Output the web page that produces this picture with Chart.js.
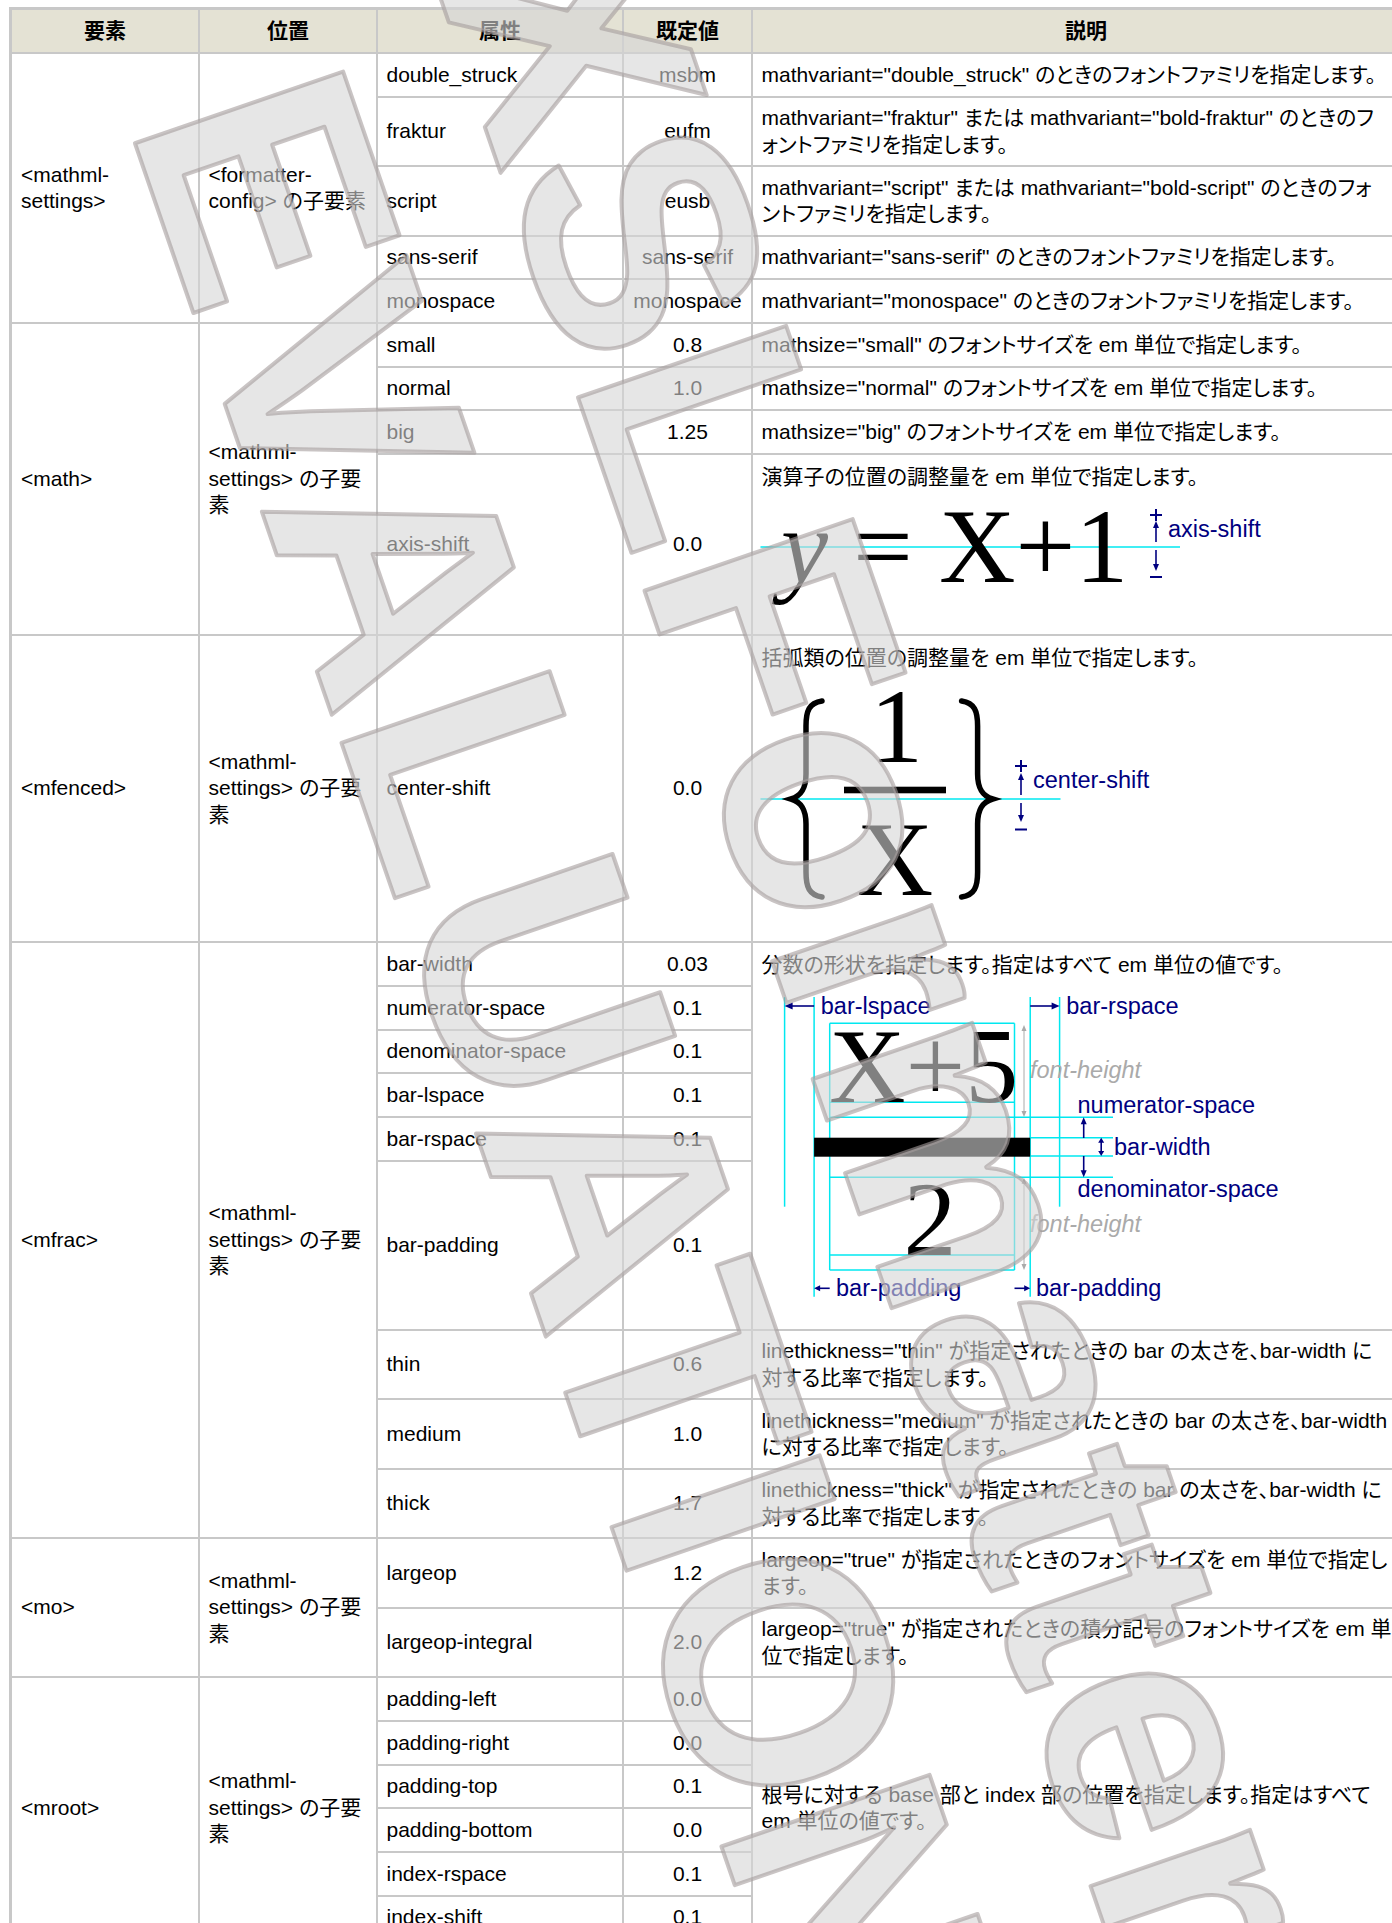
<!DOCTYPE html>
<html>
<head>
<meta charset="utf-8">
<script src="https://cdn.jsdelivr.net/npm/chart.js@4.4.0/dist/chart.umd.min.js"></script>
<style>
html,body{margin:0;padding:0;background:#fff;width:1392px;height:1923px;overflow:hidden;}
#page{position:relative;width:1392px;height:1923px;overflow:hidden;font-family:"Liberation Sans",Arial,"Noto Sans CJK JP",sans-serif;font-size:21px;line-height:26.5px;color:#000;font-feature-settings:"palt";}
.cell{position:absolute;box-sizing:border-box;border-right:2px solid #c8c8c8;border-bottom:2px solid #c8c8c8;display:flex;flex-direction:column;justify-content:center;padding-left:8.5px;white-space:nowrap;overflow:hidden;}
.cell.c0{padding-left:9px;}
.cell.top{justify-content:flex-start;padding-top:8.5px;}
.cell.mid{align-items:center;padding-left:0;}
.cell.hdr{background:#e4e2d4;font-weight:bold;align-items:center;padding-left:0;}
#outer{position:absolute;left:9px;top:7px;width:1500px;height:2000px;border-left:3px solid #c8c8c8;border-top:3px solid #c8c8c8;}
#diag{position:absolute;left:0;top:0;z-index:2;}
#wm{position:absolute;left:0;top:0;width:1392px;height:1923px;z-index:5;pointer-events:none;}
</style>
</head>
<body>
<div id="page">
  <div id="outer"></div>
  <div id="cells"></div>
  <svg id="diag" width="1392" height="1923" xmlns="http://www.w3.org/2000/svg"></svg>
  <canvas id="wm" width="1392" height="1923"></canvas>
</div>
<script>
// ---------------- DATA ----------------
const headerLabels = ['要素', '位置', '属性', '既定値', '説明'];
const elementNames = ['<mathml-\nsettings>', '<math>', '<mfenced>', '<mfrac>', '<mo>', '<mroot>'];
const positionTexts = [
  '<formatter-\nconfig> の子要素',
  '<mathml-\nsettings> の子要\n素',
  '<mathml-\nsettings> の子要\n素',
  '<mathml-\nsettings> の子要\n素',
  '<mathml-\nsettings> の子要\n素',
  '<mathml-\nsettings> の子要\n素'
];
const groupSizes = [5, 4, 1, 9, 2, 6];
const attributeNames = ['double_struck','fraktur','script','sans-serif','monospace',
  'small','normal','big','axis-shift',
  'center-shift',
  'bar-width','numerator-space','denominator-space','bar-lspace','bar-rspace','bar-padding','thin','medium','thick',
  'largeop','largeop-integral',
  'padding-left','padding-right','padding-top','padding-bottom','index-rspace','index-shift'];
const defaultValues = ['msbm','eufm','eusb','sans-serif','monospace',
  '0.8','1.0','1.25','0.0',
  '0.0',
  '0.03','0.1','0.1','0.1','0.1','0.1','0.6','1.0','1.7',
  '1.2','2.0',
  '0.0','0.0','0.1','0.0','0.1','0.1'];
const descriptionTexts = [
  'mathvariant="double_struck" のときのフォントファミリを指定します。',
  'mathvariant="fraktur" または mathvariant="bold-fraktur" のときのフ\nォントファミリを指定します。',
  'mathvariant="script" または mathvariant="bold-script" のときのフォ\nントファミリを指定します。',
  'mathvariant="sans-serif" のときのフォントファミリを指定します。',
  'mathvariant="monospace" のときのフォントファミリを指定します。',
  'mathsize="small" のフォントサイズを em 単位で指定します。',
  'mathsize="normal" のフォントサイズを em 単位で指定します。',
  'mathsize="big" のフォントサイズを em 単位で指定します。',
  '演算子の位置の調整量を em 単位で指定します。',
  '括弧類の位置の調整量を em 単位で指定します。',
  '分数の形状を指定します。指定はすべて em 単位の値です。',
  'linethickness="thin" が指定されたときの bar の太さを、bar-width に\n対する比率で指定します。',
  'linethickness="medium" が指定されたときの bar の太さを、bar-width\nに対する比率で指定します。',
  'linethickness="thick" が指定されたときの bar の太さを、bar-width に\n対する比率で指定します。',
  'largeop="true" が指定されたときのフォントサイズを em 単位で指定し\nます。',
  'largeop="true" が指定されたときの積分記号のフォントサイズを em 単\n位で指定します。',
  '根号に対する base 部と index 部の位置を指定します。指定はすべて\nem 単位の値です。'
];
const descriptionSpans = [1,1,1,1,1, 1,1,1,1, 1, 6,1,1,1, 1,1, 6];
const diagramLabels = {
  axis: 'axis-shift', fence: 'center-shift',
  lspace: 'bar-lspace', rspace: 'bar-rspace', fontHeight: 'font-height',
  numSpace: 'numerator-space', barWidth: 'bar-width', denSpace: 'denominator-space', barPadding: 'bar-padding'
};
const watermarkLines = [['XSL', 'Formatter'], ['EVALUATION']];

// ---------------- LAYOUT ----------------
const COL_X = [11, 199, 377, 623, 752, 1420];
const HEADER_TOP = 9, HEADER_BOTTOM = 53;
const SINGLE_H = 43.7, DOUBLE_H = 69.5;
const SPECIAL_H = {'axis-shift': 181, 'center-shift': 307, 'bar-padding': 169};
const TOP_ALIGNED_DESC = {8: true, 9: true, 10: true};

function esc(s){return s.replace(/&/g,'&amp;').replace(/</g,'&lt;').replace(/>/g,'&gt;');}
function lines(s){return s.split('\n').map(esc).join('<br>');}

const cellsEl = document.getElementById('cells');
function cell(x0, y0, x1, y1, text, cls){
  const a = Math.round(x0), b = Math.round(x1), t = Math.round(y0), u = Math.round(y1);
  const d = document.createElement('div');
  d.className = 'cell ' + (cls || '');
  d.style.left = (a + 1) + 'px';
  d.style.top = (t + 1) + 'px';
  d.style.width = (b - a) + 'px';
  d.style.height = (u - t) + 'px';
  d.innerHTML = '<div>' + lines(text) + '</div>';
  cellsEl.appendChild(d);
}

const rowDesc = [];
{ let r = 0; descriptionTexts.forEach((t, d) => { for (let k = 0; k < descriptionSpans[d]; k++) rowDesc[r + k] = d; r += descriptionSpans[d]; }); }
const rowH = attributeNames.map((a, i) => {
  if (SPECIAL_H[a]) return SPECIAL_H[a];
  const d = rowDesc[i];
  if (descriptionSpans[d] === 1 && descriptionTexts[d].indexOf('\n') >= 0) return DOUBLE_H;
  return SINGLE_H;
});
const rowY = [HEADER_BOTTOM];
rowH.forEach(h => rowY.push(rowY[rowY.length - 1] + h));

headerLabels.forEach((h, c) => cell(COL_X[c], HEADER_TOP, COL_X[c + 1], HEADER_BOTTOM, h, 'hdr'));
{ let start = 0;
  groupSizes.forEach((n, g) => {
    cell(COL_X[0], rowY[start], COL_X[1], rowY[start + n], elementNames[g], 'c0');
    cell(COL_X[1], rowY[start], COL_X[2], rowY[start + n], positionTexts[g], '');
    start += n;
  });
}
attributeNames.forEach((a, i) => {
  cell(COL_X[2], rowY[i], COL_X[3], rowY[i + 1], a, '');
  cell(COL_X[3], rowY[i], COL_X[4], rowY[i + 1], defaultValues[i], 'mid');
});
{ let r = 0;
  descriptionTexts.forEach((t, d) => {
    const n = descriptionSpans[d];
    cell(COL_X[4], rowY[r], COL_X[5], rowY[r + n], t, TOP_ALIGNED_DESC[d] ? 'top' : '');
    r += n;
  });
}

// ---------------- DIAGRAMS (illustrations) ----------------
const CYAN = 'rgb(0,232,240)', NAVY = '#000080', GRAY = '#aaaaaa';
const SERIF = '"Liberation Serif","Times New Roman",serif';
const SANS = '"Liberation Sans",Arial,sans-serif';
let svg = '';
function ln(x1,y1,x2,y2,c,w){svg += `<line x1="${x1}" y1="${y1}" x2="${x2}" y2="${y2}" stroke="${c}" stroke-width="${w||1.5}"/>`;}
function head(x,y,dx,dy,c,len,hw){
  const bx = x - dx*len, by = y - dy*len, px = -dy*hw, py = dx*hw;
  svg += `<polygon points="${x},${y} ${bx+px},${by+py} ${bx-px},${by-py}" fill="${c}"/>`;
}
function arrow(x1,y1,x2,y2,c,len,hw,w,both){
  len = len || 7; hw = hw || 3;
  const L = Math.hypot(x2-x1,y2-y1), dx = (x2-x1)/L, dy = (y2-y1)/L;
  const sx = both ? x1 + dx*len*0.8 : x1, sy = both ? y1 + dy*len*0.8 : y1;
  ln(sx, sy, x2 - dx*len*0.8, y2 - dy*len*0.8, c, w || 1.5);
  head(x2,y2,dx,dy,c,len,hw);
  if (both) head(x1,y1,-dx,-dy,c,len,hw);
}
function tx(x,y,s,size,fam,fill,extra){svg += `<text x="${x}" y="${y}" font-family='${fam}' font-size="${size}" fill="${fill}" ${extra||''}>${esc(s)}</text>`;}
function plusMinus(x, yPlus, yMinus){
  ln(x-6, yPlus, x+6, yPlus, NAVY, 2); ln(x, yPlus-6, x, yPlus+6, NAVY, 2);
  ln(x-6, yMinus, x+6, yMinus, NAVY, 2);
}

// axis-shift diagram
ln(760.5, 547, 1180, 547, CYAN, 1.6);
tx(781, 582, 'y', 106, SERIF, '#000', 'font-style="italic"');
tx(853, 582, '=', 106, SERIF, '#000');
tx(939, 582, 'X+1', 106, SERIF, '#000');
plusMinus(1156, 515, 577);
arrow(1156, 542, 1156, 521, NAVY, 7, 3, 1.6);
arrow(1156, 550, 1156, 571, NAVY, 7, 3, 1.6);
tx(1168, 537, diagramLabels.axis, 23.5, SANS, NAVY);

// center-shift diagram
ln(760.5, 799, 1060.5, 799, CYAN, 1.6);
const braceD = 'M 822 701 C 809 703 806 711 806 726 L 806 774 C 806 789 801 796 791 799 C 801 802 806 809 806 824 L 806 872 C 806 887 809 895 822 897';
svg += `<path d="${braceD}" fill="none" stroke="#000" stroke-width="5.5" stroke-linecap="round"/>`;
svg += `<path d="${braceD}" fill="none" stroke="#000" stroke-width="5.5" stroke-linecap="round" transform="translate(1783.6,0) scale(-1,1)"/>`;
tx(896.5, 762, '1', 106, SERIF, '#000', 'text-anchor="middle"');
svg += `<rect x="844" y="786.7" width="102" height="6.6" fill="#000"/>`;
tx(895, 895, 'X', 106, SERIF, '#000', 'text-anchor="middle"');
plusMinus(1021, 766, 829.5);
arrow(1021, 795, 1021, 773, NAVY, 7, 3, 1.6);
arrow(1021, 803, 1021, 822, NAVY, 7, 3, 1.6);
tx(1033, 788, diagramLabels.fence, 23.5, SANS, NAVY);

// mfrac diagram
[[784.6,997,1206.7],[814.1,997,1296.7],[829.7,1023.3,1270],[1014.5,1023.3,1270],[1030.2,997,1296.7],[1059.6,997,1206.7]]
  .forEach(v => ln(v[0], v[1], v[0], v[2], CYAN, 1.5));
[[1023.3,829.7,1014.5],[1102.3,829.7,1014.5],[1117.3,829.7,1113],[1137.7,1030.2,1113],[1156,1030.2,1113],[1177.3,829.7,1113],[1255,829.7,1014.5],[1270,829.7,1014.5]]
  .forEach(h => ln(h[1], h[0], h[2], h[0], CYAN, 1.5));
tx(829, 1102.3, 'X+5', 106, SERIF, '#000');
svg += `<rect x="814.1" y="1137.7" width="216.1" height="19" fill="#000"/>`;
tx(930, 1255, '2', 106, SERIF, '#000', 'text-anchor="middle"');
arrow(1024, 1117, 1024, 1025, GRAY, 6, 2.5, 1, true);
arrow(1024, 1270, 1024, 1178, GRAY, 6, 2.5, 1, true);
tx(1030, 1078.3, diagramLabels.fontHeight, 23.5, SANS, GRAY, 'font-style="italic"');
tx(1030, 1231.7, diagramLabels.fontHeight, 23.5, SANS, GRAY, 'font-style="italic"');
arrow(814.1, 1006, 784.6, 1006, NAVY, 8, 3.5, 1.6);
arrow(1030.2, 1006, 1059.6, 1006, NAVY, 8, 3.5, 1.6);
tx(820.8, 1014, diagramLabels.lspace, 23.5, SANS, NAVY);
tx(1066.3, 1014, diagramLabels.rspace, 23.5, SANS, NAVY);
arrow(1083.7, 1138, 1083.7, 1117.3, NAVY, 7, 3, 1.6);
arrow(1083.7, 1156, 1083.7, 1177.3, NAVY, 7, 3, 1.6);
tx(1077.5, 1113.3, diagramLabels.numSpace, 23.5, SANS, NAVY);
arrow(1101.2, 1137.7, 1101.2, 1156, NAVY, 5, 3, 1.6, true);
tx(1114, 1155, diagramLabels.barWidth, 23.5, SANS, NAVY);
tx(1077.5, 1196.7, diagramLabels.denSpace, 23.5, SANS, NAVY);
arrow(829.7, 1288.3, 814.1, 1288.3, NAVY, 6, 3, 1.6);
arrow(1014.5, 1288.3, 1030.2, 1288.3, NAVY, 6, 3, 1.6);
tx(836, 1296, diagramLabels.barPadding, 23.5, SANS, NAVY);
tx(1036, 1296, diagramLabels.barPadding, 23.5, SANS, NAVY);

document.getElementById('diag').innerHTML = svg;

// ---------------- WATERMARK via Chart.js ----------------
// per line: origin (page px) and per-word extra shift along the text direction
const WM = { size: 320, angle: 71, origins: [[406, -102], [128, 123]], wordShift: [[80, 0], [0]] };
const watermarkPlugin = {
  id: 'watermark',
  afterDraw(chart) {
    const ctx = chart.ctx, xs = chart.scales.x, ys = chart.scales.y;
    ctx.save();
    ctx.font = 'bold ' + WM.size + 'px "Liberation Sans", Arial, sans-serif';
    ctx.textBaseline = 'alphabetic';
    ctx.textAlign = 'left';
    ctx.lineJoin = 'round';
    watermarkLines.forEach((words, i) => {
      const o = WM.origins[i];
      ctx.save();
      ctx.translate(xs.getPixelForValue(o[0]), ys.getPixelForValue(o[1]));
      ctx.rotate(WM.angle * Math.PI / 180);
      let adv = 0;
      words.forEach((w, k) => {
        const px = adv + WM.wordShift[i][k];
        ctx.fillStyle = 'rgba(213,213,213,0.6)';
        ctx.fillText(w, px, 0);
        ctx.lineWidth = 4;
        ctx.strokeStyle = 'rgba(165,156,156,0.6)';
        ctx.strokeText(w, px, 0);
        adv += ctx.measureText(w + ' ').width;
      });
      ctx.restore();
    });
    ctx.restore();
  }
};
new Chart(document.getElementById('wm'), {
  type: 'scatter',
  data: { datasets: [] },
  options: {
    responsive: false, animation: false, devicePixelRatio: 1, events: [],
    layout: { padding: 0 },
    plugins: { legend: { display: false }, tooltip: { enabled: false } },
    scales: {
      x: { type: 'linear', display: false, min: 0, max: 1392 },
      y: { type: 'linear', display: false, min: 0, max: 1923, reverse: true }
    }
  },
  plugins: [watermarkPlugin]
});
</script>
</body>
</html>
